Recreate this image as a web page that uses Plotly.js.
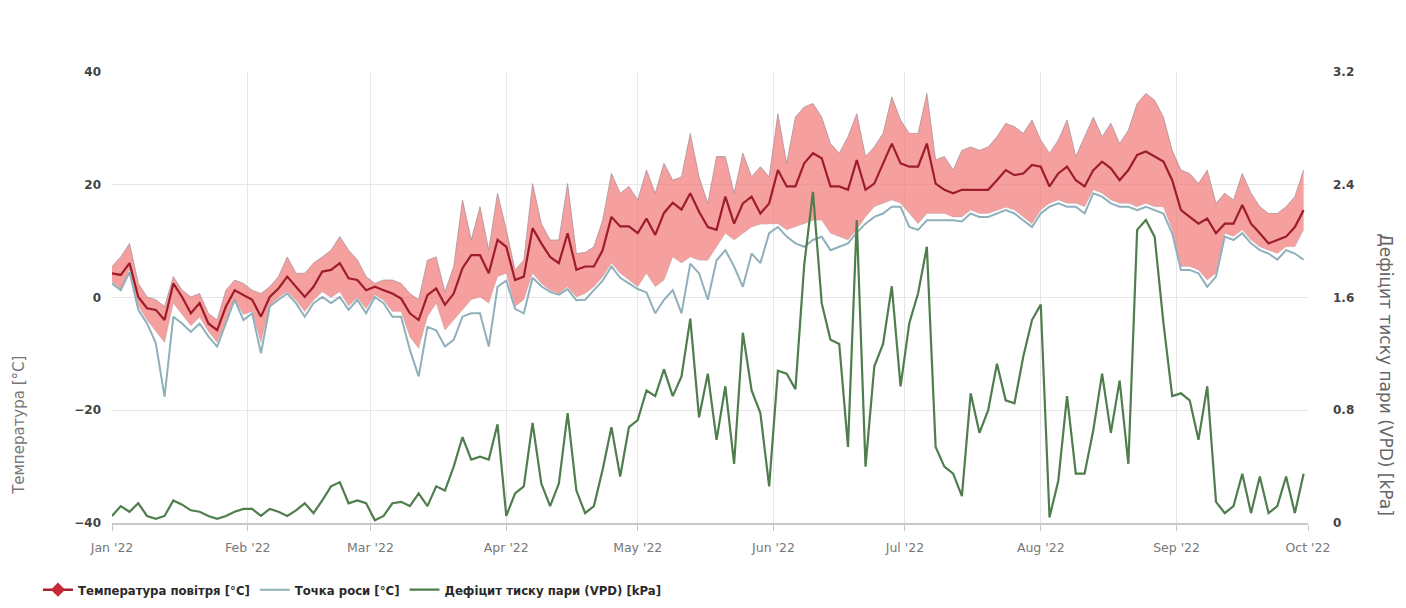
<!DOCTYPE html>
<html>
<head>
<meta charset="utf-8">
<script src="https://cdn.plot.ly/plotly-3.0.1.min.js"></script>
<style>
html,body{margin:0;padding:0;background:#fff;}
#chart{width:1406px;height:608px;}
</style>
</head>
<body>
<div id="chart"></div>
<script>
// Daily-derived series sampled every 2 days, starting 2022-01-01
const startDate = '2022-01-01';
const stepDays = 2;

const tempMax = [
  5.5,7.2,9.6,2.5,0.1,-0.4,-1.6,3.7,1.3,0.1,0.7,-2.8,-4.0,1.3,3.1,2.5,1.3,0.7,1.9,3.7,7.2,4.3,4.3,6.1,7.2,8.4,10.8,8.4,6.7,3.7,2.5,3.1,3.1,2.5,0.7,-0.4,
  6.6,7.2,1.0,5.5,17.3,10.2,16.1,8.4,18.5,12.0,4.9,6.6,20.2,13.1,10.2,10.2,20.2,7.8,8.0,9.0,13.7,22.0,18.5,19.7,17.3,22.6,18.5,23.8,20.8,21.4,29.1,21.4,
  16.7,25.0,25.0,18.5,25.6,21.4,23.2,21.4,32.6,23.8,32.0,33.8,34.4,32.0,27.3,25.6,28.5,32.6,25.0,26.7,29.1,35.6,31.5,29.1,29.1,36.2,24.4,25.0,22.6,26.1,26.7,26.1,26.7,28.5,30.9,
  30.3,29.1,31.5,27.9,25.6,27.9,31.5,25.0,28.5,32.0,28.5,30.9,27.3,29.7,34.4,36.2,35.0,32.0,26.1,22.6,22.0,20.2,22.6,16.7,18.5,17.3,22.0,18.5,16.1,14.9,14.9,16.1,17.9,22.6
];
const tempMean = [
  4.3,4.0,6.1,0.1,-1.9,-2.2,-4.0,2.5,0.1,-2.8,-1.0,-4.6,-5.8,-1.6,1.3,0.4,-0.4,-3.4,0.1,1.6,3.7,1.9,0.1,1.9,4.6,4.9,6.1,3.4,3.1,1.3,1.9,1.3,0.7,-0.2,-2.8,-4.0,
  0.4,1.6,-1.3,0.7,5.2,7.5,7.5,4.3,10.2,9.0,3.1,3.7,12.3,9.6,7.2,6.1,11.4,4.9,5.5,5.5,8.4,14.3,12.6,12.6,11.4,14.0,11.1,15.0,16.8,15.6,18.5,15.2,
  12.5,12.0,17.9,13.1,16.7,17.9,14.9,16.7,22.6,19.7,19.7,23.8,25.6,24.7,19.7,19.7,19.1,24.4,19.1,20.2,23.8,27.3,23.8,23.2,23.2,27.3,20.2,19.1,18.5,19.1,19.1,19.1,19.1,20.8,22.6,
  21.7,22.0,23.5,23.2,19.7,22.0,23.2,20.8,19.7,22.6,24.1,22.9,20.8,22.6,25.3,25.9,25.0,24.1,20.8,15.5,14.3,13.1,14.0,11.4,13.1,13.1,16.4,13.1,11.4,9.6,10.2,10.8,12.5,15.5
];
const tempMin = [
  2.8,1.5,5.0,-1.5,-4.0,-6.0,-8.0,-1.0,-3.0,-5.0,-3.5,-6.0,-8.0,-4.0,-0.3,-3.0,-2.5,-8.0,-1.5,0.0,1.0,-0.5,-2.5,-0.5,1.0,0.0,1.0,-1.5,0.0,-2.0,0.5,-0.5,-2.5,-2.5,-7.0,-9.0,
  -3.4,-1.0,-5.8,-4.0,-2.2,-0.4,0.1,-1.0,3.7,4.3,-1.6,-0.4,4.3,2.5,1.3,0.7,1.9,0.1,0.7,1.9,3.7,6.1,4.3,3.1,1.9,4.3,1.9,3.1,7.2,6.1,7.2,6.6,
  6.6,9.0,11.4,10.2,11.4,12.5,13.0,13.1,13.1,12.0,12.5,13.1,13.7,13.7,11.4,10.8,10.2,12.0,14.3,16.1,16.7,17.3,16.7,14.9,13.1,14.9,14.9,14.9,14.3,14.3,15.5,14.9,14.9,15.5,16.0,
  15.5,14.3,13.1,15.5,16.7,17.3,16.7,16.7,16.1,19.1,18.5,17.3,16.7,16.7,16.1,16.7,16.1,16.1,12.0,5.5,5.5,4.9,3.1,4.3,11.4,10.8,12.0,10.2,9.0,8.4,7.8,9.0,9.0,12.0
];
const dewPoint = [
  2.5,1.3,4.5,-2.2,-4.6,-8.1,-17.6,-3.4,-4.6,-6.1,-4.6,-6.9,-8.7,-4.6,-0.4,-4.0,-2.8,-9.9,-1.6,-0.4,0.7,-1.0,-3.4,-1.0,0.1,-1.0,0.1,-2.2,-0.4,-2.8,0.1,-1.0,-3.4,-3.4,-9.3,-14.0,
  -5.2,-5.8,-8.7,-7.5,-3.4,-2.8,-2.8,-8.7,1.9,3.0,-2.0,-2.8,3.5,2.0,1.0,0.5,1.5,-0.5,-0.4,1.3,3.0,5.5,3.5,2.5,1.5,0.9,-2.8,-0.4,1.3,-2.8,6.0,4.3,
  -0.4,6.6,8.4,5.5,1.9,7.8,6.1,11.4,12.5,10.8,9.6,9.0,10.2,10.8,8.4,9.0,9.6,11.5,13.1,14.3,14.9,16.1,16.1,12.5,12.0,13.7,13.7,13.7,13.7,13.5,14.9,14.3,14.3,14.9,15.5,
  14.9,13.7,12.5,14.9,16.1,16.7,16.1,16.1,14.9,18.5,17.9,16.7,16.1,16.1,15.5,16.1,15.5,14.9,11.4,4.9,4.9,4.3,1.9,3.7,10.8,10.2,11.4,9.6,8.4,7.8,6.7,8.4,7.8,6.7
];
const vpd = [
  0.05,0.12,0.08,0.14,0.05,0.03,0.05,0.16,0.13,0.09,0.08,0.05,0.03,0.05,0.08,0.10,0.10,0.05,0.10,0.08,0.05,0.09,0.14,0.07,0.16,0.26,0.29,0.14,0.16,0.14,0.02,0.05,0.14,0.15,0.12,0.21,
  0.12,0.26,0.23,0.40,0.61,0.45,0.47,0.45,0.70,0.05,0.21,0.26,0.71,0.28,0.12,0.28,0.78,0.23,0.07,0.12,0.38,0.68,0.33,0.68,0.73,0.94,0.90,1.09,0.90,1.04,1.45,0.75,
  1.06,0.59,0.97,0.42,1.35,0.94,0.78,0.26,1.08,1.06,0.95,1.83,2.35,1.56,1.30,1.27,0.54,2.15,0.40,1.11,1.27,1.68,0.97,1.42,1.63,1.96,0.54,0.40,0.35,0.19,0.92,0.64,0.80,1.13,0.87,
  0.85,1.18,1.44,1.55,0.04,0.30,0.90,0.35,0.35,0.66,1.06,0.64,1.01,0.42,2.08,2.15,2.03,1.42,0.90,0.92,0.87,0.59,0.97,0.15,0.07,0.12,0.35,0.07,0.33,0.07,0.12,0.33,0.07,0.35
];

const tempTicks = [-40,-20,0,20,40];
const vpdTicks = [0,0.8,1.6,2.4,3.2];
const legendNames = ['Температура повітря [°C]','Точка роси [°C]','Дефіцит тиску пари (VPD) [kPa]'];
const yTitleLeft = 'Температура [°C]';
const yTitleRight = 'Дефіцит тиску пари (VPD) [kPa]';

const dx = stepDays * 86400000;
const common = {x0: startDate, dx: dx, hoverinfo: 'skip'};
const FONT = 'DejaVu Sans, Verdana, sans-serif';

const traces = [
  Object.assign({}, common, {
    y: tempMin, type: 'scatter', mode: 'lines',
    line: {color: 'rgba(150,150,160,0.35)', width: 0.8},
    showlegend: false
  }),
  Object.assign({}, common, {
    y: tempMax, type: 'scatter', mode: 'lines', fill: 'tonexty',
    fillcolor: 'rgba(242,122,122,0.72)',
    line: {color: 'rgba(160,140,150,0.7)', width: 1},
    showlegend: false
  }),
  // legend-only entry for temperature (line + diamond marker)
  {
    x: [null], y: [null], type: 'scatter', mode: 'lines+markers',
    name: legendNames[0],
    line: {color: '#a5202c', width: 2.5},
    marker: {symbol: 'diamond', size: 11, color: '#c42a3a'},
    legendrank: 1, hoverinfo: 'skip'
  },
  Object.assign({}, common, {
    y: dewPoint, type: 'scatter', mode: 'lines',
    name: legendNames[1], legendrank: 2,
    line: {color: '#8fb0bb', width: 2}
  }),
  Object.assign({}, common, {
    y: tempMean, type: 'scatter', mode: 'lines',
    showlegend: false,
    line: {color: '#9e1d2b', width: 2.2}
  }),
  Object.assign({}, common, {
    y: vpd, type: 'scatter', mode: 'lines', yaxis: 'y2',
    name: legendNames[2], legendrank: 3,
    line: {color: '#4f7d4c', width: 2.2}
  })
];

const layout = {
  width: 1406, height: 608,
  margin: {l: 112, r: 98, t: 72, b: 85, autoexpand: false},
  paper_bgcolor: '#ffffff',
  plot_bgcolor: '#ffffff',
  font: {family: FONT, color: '#555'},
  showlegend: true,
  legend: {
    orientation: 'h', xref: 'container', yref: 'container',
    x: 0.027, xanchor: 'left', y: 0.03, yanchor: 'middle',
    font: {size: 13, color: '#2a2a2a', weight: 'bold', family: 'DejaVu Sans Condensed, DejaVu Sans, sans-serif'},
    itemwidth: 30, tracegroupgap: 0, traceorder: 'normal',
    bgcolor: 'rgba(0,0,0,0)'
  },
  xaxis: {
    type: 'date',
    range: ['2022-01-01', '2022-10-01'],
    tick0: '2022-01-01', dtick: 'M1',
    tickformat: "%b '%y",
    showgrid: true, gridcolor: '#e6e6e6', gridwidth: 1,
    showline: true, linecolor: '#c8c8c8', linewidth: 1.5,
    ticks: 'outside', ticklen: 6, tickcolor: '#c8c8c8',
    ticklabelstandoff: 6,
    tickfont: {size: 12.5, color: '#777'},
    zeroline: false
  },
  yaxis: {
    range: [-40, 40], tickvals: tempTicks,
    showgrid: true, gridcolor: '#e6e6e6', gridwidth: 1,
    zeroline: false, showline: false,
    ticklabelstandoff: 10,
    tickfont: {size: 12, color: '#444', weight: 'bold'}
  },
  yaxis2: {
    range: [0, 3.2], tickvals: vpdTicks,
    overlaying: 'y', side: 'right',
    showgrid: false, zeroline: false, showline: false,
    ticklabelstandoff: 24,
    tickfont: {size: 12, color: '#444', weight: 'bold'}
  },
  annotations: [
    {text: yTitleLeft, xref: 'paper', yref: 'paper', x: -0.078, y: 0.217,
     xanchor: 'center', yanchor: 'middle',
     textangle: -90, showarrow: false, font: {size: 15, color: '#777'}},
    {text: yTitleRight, xref: 'paper', yref: 'paper', x: 1.065, y: 0.33,
     xanchor: 'center', yanchor: 'middle',
     textangle: 90, showarrow: false, font: {size: 17, color: '#666'}}
  ]
};

Plotly.newPlot('chart', traces, layout, {displayModeBar: false, staticPlot: true});
</script>
</body>
</html>
